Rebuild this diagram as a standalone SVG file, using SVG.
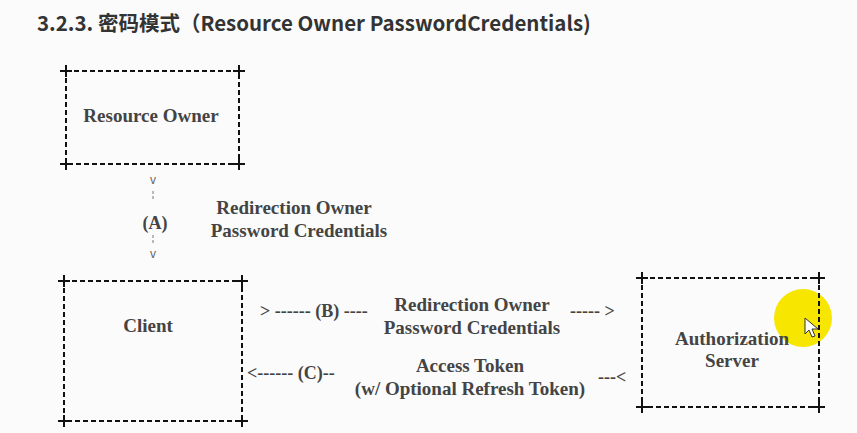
<svg xmlns="http://www.w3.org/2000/svg" width="857" height="433" viewBox="0 0 857 433">
<style>
.title{font-family:"Noto Sans CJK SC","Noto Sans",sans-serif;font-weight:bold;font-size:20.5px;fill:#333}
.t{font-family:"Liberation Serif",serif;font-weight:bold;font-size:19px;fill:#444;text-anchor:middle}
.a{font-family:"Liberation Serif",serif;font-weight:bold;font-size:18px;fill:#444}
.s{font-family:"Liberation Sans",sans-serif;font-size:12px;fill:#666;text-anchor:middle}
.vl{stroke:#777;stroke-width:1;stroke-dasharray:3 2}
.box{fill:none;stroke:#111;stroke-width:2;stroke-dasharray:5 3}
.plus{stroke:#111;stroke-width:2}
</style>
<defs>
<g id="p"><line class="plus" x1="-6" y1="0" x2="6" y2="0"/><line class="plus" x1="0" y1="-6" x2="0" y2="6"/></g>
</defs>
<rect width="857" height="433" fill="#fbfbfb"/>
<text class="title" x="37" y="31">3.2.3. 密码模式（Resource Owner PasswordCredentials)</text>

<g id="resource-owner">
<rect class="box" x="66" y="71" width="173" height="93"/>
<use href="#p" x="66" y="71"/><use href="#p" x="239" y="71"/><use href="#p" x="66" y="164"/><use href="#p" x="239" y="164"/>
<text class="t" x="151" y="122">Resource Owner</text>
</g>

<g id="client">
<rect class="box" x="64" y="281" width="178" height="140"/>
<use href="#p" x="64" y="281"/><use href="#p" x="242" y="281"/><use href="#p" x="64" y="421"/><use href="#p" x="242" y="421"/>
<text class="t" x="148" y="332">Client</text>
</g>

<g id="authorization-server">
<circle cx="803" cy="318" r="29" fill="#f6e600"/>
<rect class="box" x="642" y="278" width="177" height="129"/>
<use href="#p" x="642" y="278"/><use href="#p" x="819" y="278"/><use href="#p" x="642" y="407"/><use href="#p" x="819" y="407"/>
<text class="t" x="732" y="345">Authorization</text>
<text class="t" x="732" y="367">Server</text>
<path d="M805 318 L805 334 L809 330 L812 337 L815 336 L812 329 L818 329 Z" fill="#fff" stroke="#333" stroke-width="1"/>
</g>

<g id="connectors">
<text class="s" x="153" y="184">v</text>
<line class="vl" x1="153" y1="191" x2="153" y2="200"/>
<text class="a" x="155" y="229" text-anchor="middle">(A)</text>
<line class="vl" x1="153" y1="235" x2="153" y2="245"/>
<text class="s" x="153" y="258">v</text>
<text class="t" x="294" y="214">Redirection Owner</text>
<text class="t" x="299" y="237">Password Credentials</text>

<text class="a" x="260" y="317">&gt; ------ (B) ----</text>
<text class="t" x="472" y="311">Redirection Owner</text>
<text class="t" x="472" y="334">Password Credentials</text>
<text class="a" x="570" y="317">----- &gt;</text>

<text class="a" x="247" y="379">&lt;------ (C)--</text>
<text class="t" x="470" y="372">Access Token</text>
<text class="t" x="470" y="395">(w/ Optional Refresh Token)</text>
<text class="a" x="598" y="383">---&lt;</text>
</g>
</svg>
